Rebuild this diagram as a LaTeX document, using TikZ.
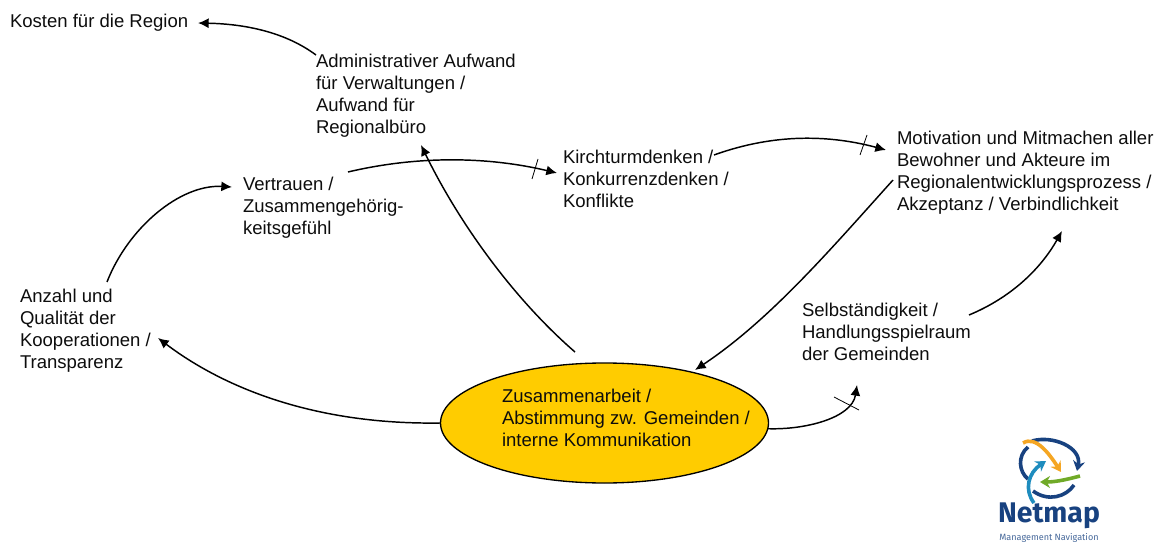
\documentclass[tikz,border=0pt]{standalone}
\usepackage{fontspec}
\setmainfont{Liberation Sans}
\usetikzlibrary{arrows.meta,shapes.geometric}
\definecolor{ellfill}{RGB}{255,204,0}
\definecolor{navy}{RGB}{24,66,128}
\definecolor{logoorange}{RGB}{245,166,35}
\definecolor{logogreen}{RGB}{112,170,40}
\definecolor{logoblue}{RGB}{30,140,190}
\tikzset{
  lbl/.style={anchor=north west,inner sep=0pt,outer sep=0pt,align=left,font=\fontsize{13.9}{16.5}\selectfont,text=black!95},
  conn/.style={draw=black,line width=1.1pt,-{Latex[length=8pt,width=7.5pt]}},
  tick/.style={draw=black,line width=0.6pt},
  logoarc/.style={line width=2.7pt,-{Stealth[length=7.5pt,width=9pt]}},
  logoline/.style={navy,line width=2.7pt}
}
\begin{document}
\begin{tikzpicture}[x=0.75pt,y=-0.75pt]
\useasboundingbox (0,0) rectangle (1173,545);
\node[lbl] (kosten) at (10,14) {Kosten für die Region};
\node[lbl] (aufwand) at (316,54) {Administrativer Aufwand\\für Verwaltungen /\\Aufwand für\\Regionalbüro};
\node[lbl] (vertrauen) at (243,177) {Vertrauen /\\Zusammengehörig-\\keitsgefühl};
\node[lbl] (kirch) at (563,150) {Kirchturmdenken /\\Konkurrenzdenken /\\Konflikte};
\node[lbl] (motiv) at (897,131.5) {Motivation und Mitmachen aller\\Bewohner und Akteure im\\Regionalentwicklungsprozess /\\Akzeptanz / Verbindlichkeit};
\node[lbl] (selbst) at (802,303) {Selbständigkeit /\\Handlungsspielraum\\der Gemeinden};
\node[lbl] (anzahl) at (20,289.5) {Anzahl und\\Qualität der\\Kooperationen /\\Transparenz};
\node[ellipse,draw=black,line width=1pt,fill=ellfill,minimum width=246pt,minimum height=90pt,inner sep=0pt,outer sep=0pt] (zus) at (604.5,423) {};
\node[lbl] (zustext) at (502,389) {Zusammenarbeit /\\Abstimmung zw. Gemeinden /\\interne Kommunikation};

\coordinate (aufwandS) at (316,55);
\coordinate (kostenE) at (198,23);
\coordinate (zusTop) at (575,352);
\coordinate (aufwandB) at (421,145);
\coordinate (vertE) at (348,172);
\coordinate (kirchW) at (557,173);
\coordinate (kirchE) at (714,155);
\coordinate (motivW) at (886,150);
\coordinate (motivS) at (893,180);
\coordinate (zusNE) at (695,370);
\coordinate (selbstE) at (969,315);
\coordinate (motivB) at (1062,231);
\coordinate (selbstB) at (857,385);
\coordinate (anzahlE) at (158,338);
\coordinate (anzahlT) at (107,282);
\coordinate (vertW) at (232,187);

\draw[conn] (aufwandS) .. controls (285,32) and (245,24) .. (kostenE);
\draw[conn] (zusTop) .. controls (515,300) and (460,225) .. (aufwandB);
\draw[conn] (vertE) .. controls (420,155) and (490,157) .. (kirchW);
\draw[conn] (kirchE) .. controls (775,133) and (830,135) .. (motivW);
\draw[conn] (motivS) .. controls (830,250) and (770,320) .. (zusNE);
\draw[conn] (selbstE) .. controls (1010,298) and (1040,270) .. (motivB);
\draw[conn] (zus.-2.5) .. controls (805,430) and (852,418) .. (selbstB);
\draw[conn] (zus.west) .. controls (310,425) and (220,385) .. (anzahlE);
\draw[conn] (anzahlT) .. controls (128,228) and (180,184) .. (vertW);

\draw[tick] (532,179) -- (538,159);
\draw[tick] (860,155) -- (867,135);
\draw[tick] (834,397) -- (859,410);

% logo
\draw[logoline,-{Stealth[length=7.5pt,width=9pt]}] (1032,441) .. controls (1052,435) and (1082,447) .. (1077,471);
\draw[logoline] (1028,447) .. controls (1017,456) and (1019,472) .. (1028,479);
\draw[logoline] (1033,491) .. controls (1048,502) and (1066,497) .. (1074,485);
\draw[logoorange,logoarc] (1023,443) .. controls (1036,435) and (1050,455) .. (1061,472);
\draw[logogreen,logoarc] (1080,476) .. controls (1065,480) and (1055,482) .. (1040,482);
\draw[logoblue,logoarc] (1034,503) .. controls (1024,490) and (1028,473) .. (1046,461);
\node[inner sep=0pt,font=\fontsize{21.3}{23}\selectfont\bfseries,text=navy] (netmap) at (1049,516) {\fontspec{Fira Sans}Netmap};
\node[inner sep=0pt,font=\fontsize{6.8}{7}\selectfont,text=navy!80] (mgmt) at (1049,537.5) {\fontspec{Fira Sans}Management Navigation};
\end{tikzpicture}
\end{document}
